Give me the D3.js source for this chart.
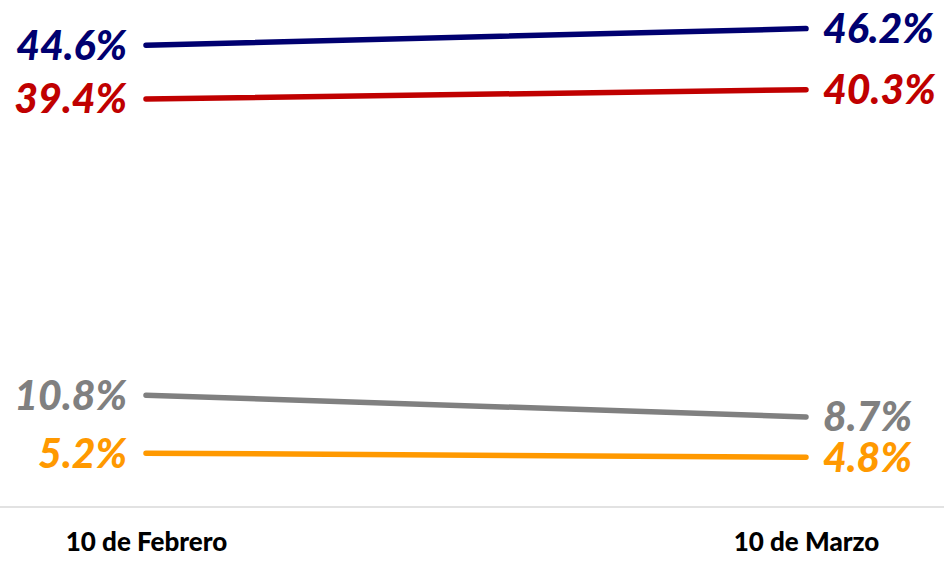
<!DOCTYPE html>
<html><head><meta charset="utf-8">
<script src="https://cdn.jsdelivr.net/npm/d3@7"></script>
<style>body{margin:0;background:#fff}svg{display:block}</style>
</head><body>
<svg id="c" width="944" height="567"></svg>
<script>
const categories = ["10 de Febrero", "10 de Marzo"];
const seriesNames = ["A", "B", "C", "D"];
const seriesValues = [
  [44.6, 46.2],
  [39.4, 40.3],
  [10.8, 8.7],
  [5.2, 4.8]
];
const seriesColors = ["#000070", "#c00000", "#808080", "#ff9900"];

const W = 944, H = 567;
const svg = d3.select("#c");
const x = d3.scalePoint().domain(categories).range([146, 806]);
const y = d3.scaleLinear().domain([0, 46.2]).range([507, 28.6]);

svg.append("line").attr("x1", 0).attr("x2", W).attr("y1", y(0)).attr("y2", y(0))
  .attr("stroke", "#d9d9d9").attr("stroke-width", 1.5);

const xAxis = d3.axisBottom(x).tickSize(0).tickPadding(0);
const gx = svg.append("g").attr("transform", `translate(0,${y(0)})`).call(xAxis);
gx.select(".domain").remove();
gx.selectAll("text").attr("y", 44).attr("dy", 0)
  .style("font-family", "Lato, 'Open Sans', sans-serif").style("font-weight", "900")
  .style("font-size", "26px").attr("fill", "#000");

const line = d3.line().x((d, i) => x(categories[i])).y(d => y(d));
seriesValues.forEach((vals, s) => {
  svg.append("path").datum(vals).attr("d", line).attr("fill", "none")
    .attr("stroke", seriesColors[s]).attr("stroke-width", 5.5).attr("stroke-linecap", "round");
  vals.forEach((v, i) => {
    svg.append("text")
      .attr("x", i === 0 ? x(categories[i]) - 19 : x(categories[i]) + 17)
      .attr("y", y(v)).attr("dy", "0.35em")
      .attr("text-anchor", i === 0 ? "end" : "start")
      .style("font-family", "Lato, 'Open Sans', sans-serif")
      .style("font-weight", "900").style("font-style", "italic")
      .style("font-size", "41px").attr("fill", seriesColors[s])
      .text(v.toFixed(1) + "%");
  });
});
</script>
</body></html>
